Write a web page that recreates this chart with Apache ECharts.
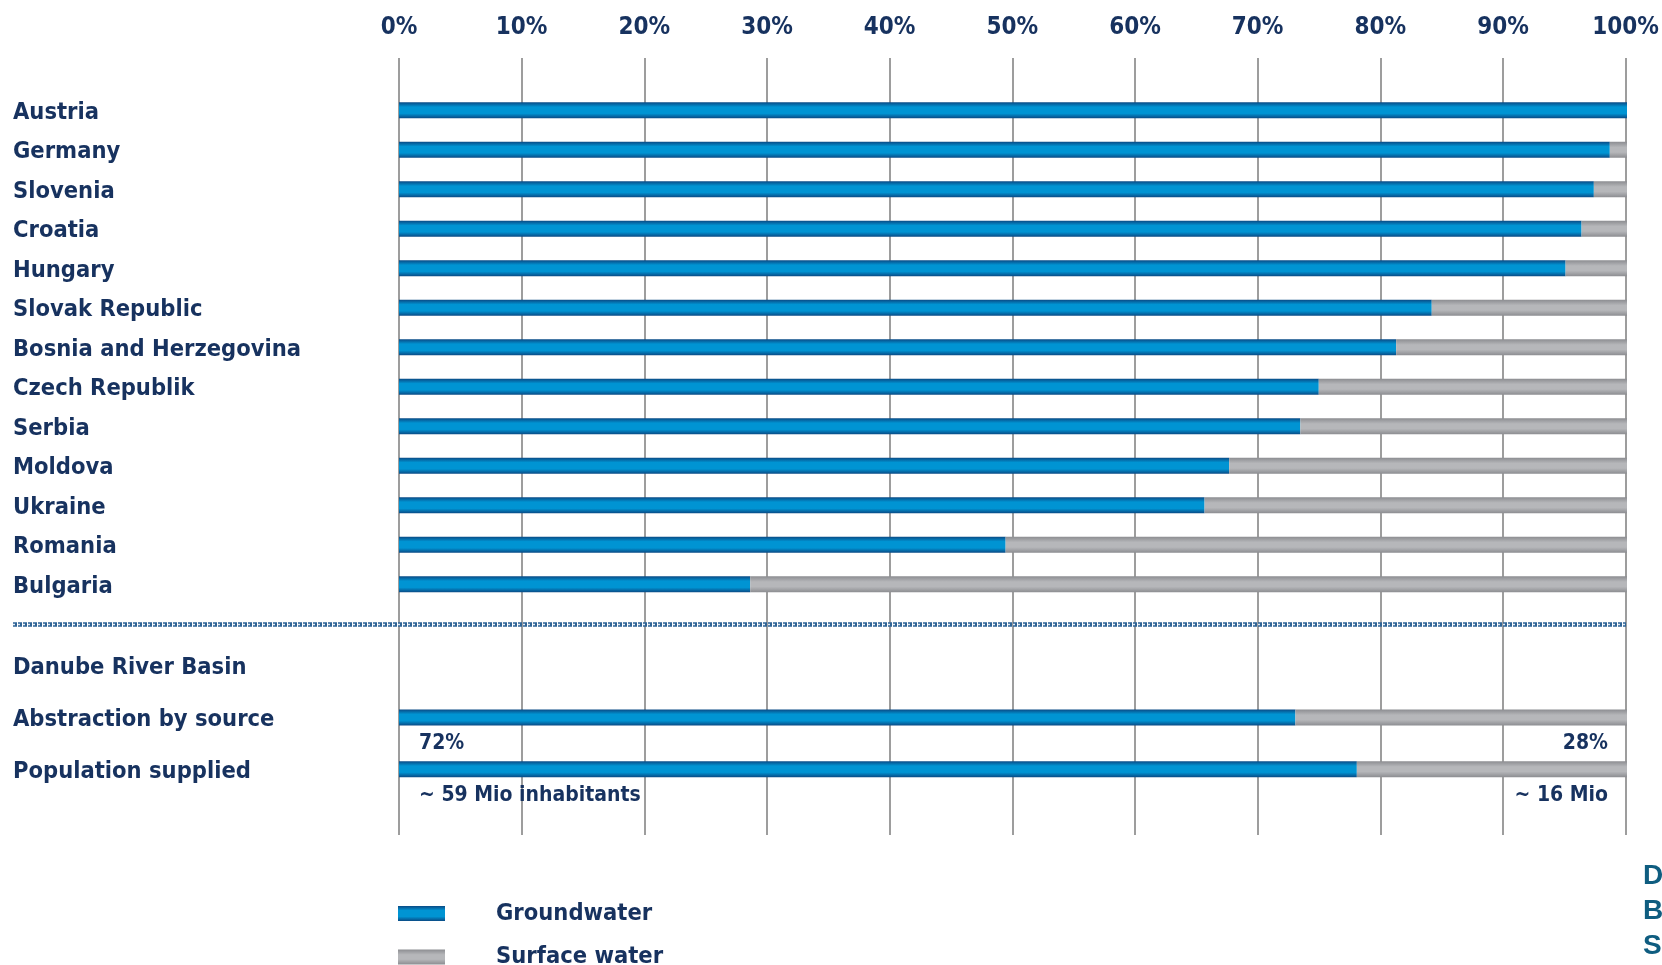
<!DOCTYPE html>
<html lang="en">
<head>
    <meta charset="UTF-8">
    <title>Groundwater and surface water</title>
    <script type="text/javascript" src="https://cdn.jsdelivr.net/npm/echarts@6/dist/echarts.min.js"></script>
    <style>
        body { margin: 0; background: #fff; }
    </style>
</head>
<body>
<div id="main" style="width: 1662px; height: 965px;"></div>
<script type="text/javascript">
    // countries, top to bottom
    var countries = ['Austria', 'Germany', 'Slovenia', 'Croatia', 'Hungary', 'Slovak Republic',
        'Bosnia and Herzegovina', 'Czech Republik', 'Serbia', 'Moldova', 'Ukraine', 'Romania', 'Bulgaria'];
    var groundwater = [100, 98.6, 97.3, 96.3, 95.0, 84.1, 81.2, 74.9, 73.4, 67.6, 65.6, 49.4, 28.6];
    var surfacewater = [0, 1.4, 2.7, 3.7, 5.0, 15.9, 18.8, 25.1, 26.6, 32.4, 34.4, 50.6, 71.4];

    // Danube basin block
    var basinRows = ['Danube River Basin', 'Abstraction by source', 'Population supplied'];
    var basinGround = ['-', 73, 78];
    var basinSurface = ['-', 27, 22];
    var basinGroundNotes = ['', '72%', '~ 59 Mio inhabitants'];
    var basinSurfaceNotes = ['', '28%', '~ 16 Mio'];

    var tickLabels = ['0%', '10%', '20%', '30%', '40%', '50%', '60%', '70%', '80%', '90%', '100%'];

    var FONT = "'DejaVu Sans Condensed', 'Liberation Sans Narrow', sans-serif";
    var NAVY = '#17325f';

    var blue = new echarts.graphic.LinearGradient(0, 0, 0, 1, [
        {offset: 0, color: '#0a4a85'},
        {offset: 0.3, color: '#0094d3'},
        {offset: 0.7, color: '#0094d3'},
        {offset: 1, color: '#0a4a85'}
    ]);
    var grey = new echarts.graphic.LinearGradient(0, 0, 0, 1, [
        {offset: 0, color: '#8c8d91'},
        {offset: 0.35, color: '#b6b7ba'},
        {offset: 0.65, color: '#b6b7ba'},
        {offset: 1, color: '#8c8d91'}
    ]);

    var noteStyle = {fontFamily: FONT, fontWeight: 'bold', fontSize: 21, color: NAVY};

    var basinGroundData = basinGround.map(function (v, i) {
        var item = {value: v};
        if (basinGroundNotes[i]) {
            item.label = Object.assign({show: true, formatter: basinGroundNotes[i],
                position: [20, 34], align: 'left', verticalAlign: 'middle'}, noteStyle);
        }
        return item;
    });
    var basinSurfaceData = basinSurface.map(function (v, i) {
        var item = {value: v};
        if (basinSurfaceNotes[i]) {
            item.label = Object.assign({show: true, formatter: basinSurfaceNotes[i],
                position: ['100%', 34], offset: [-19, 0], align: 'right', verticalAlign: 'middle'}, noteStyle);
        }
        return item;
    });

    // row labels sit a few px below the bar centre
    var catLabel = {
        align: 'left',
        margin: 386,
        formatter: function (v) { return '{a|' + v + '}'; },
        rich: {
            a: {
                fontFamily: FONT,
                fontWeight: 'bold',
                fontSize: 23.5,
                color: NAVY,
                lineHeight: 29,
                verticalAlign: 'bottom'
            }
        }
    };

    var myChart = echarts.init(document.getElementById('main'));
    var option = {
        backgroundColor: '#fff',
        animation: false,
        grid: [
            {left: 399, right: 35, top: 58, height: 777},
            {left: 399, right: 35, top: 90.5, height: 513.5},
            {left: 399, right: 35, top: 640, height: 155}
        ],
        xAxis: [
            {
                gridIndex: 0, type: 'value', position: 'top', min: 0, max: 100, interval: 10,
                axisLine: {show: false}, axisTick: {show: false},
                splitLine: {show: true, lineStyle: {color: '#7d7d7d', width: 1.5}},
                axisLabel: {
                    margin: 18,
                    fontFamily: FONT, fontWeight: 'bold', fontSize: 24, color: NAVY,
                    formatter: function (v) { return tickLabels[Math.round(v / 10)]; }
                }
            },
            {gridIndex: 1, type: 'value', min: 0, max: 100, show: false},
            {gridIndex: 2, type: 'value', min: 0, max: 100, show: false}
        ],
        yAxis: [
            {gridIndex: 0, type: 'value', show: false},
            {
                gridIndex: 1, type: 'category', inverse: true, data: countries,
                axisLine: {show: false}, axisTick: {show: false}, axisLabel: catLabel
            },
            {
                gridIndex: 2, type: 'category', inverse: true, data: basinRows,
                axisLine: {show: false}, axisTick: {show: false}, axisLabel: catLabel
            }
        ],
        legend: {
            orient: 'vertical',
            left: 398,
            top: 900.5,
            padding: 0,
            height: 120,
            icon: 'rect',
            itemWidth: 47,
            itemHeight: 15,
            itemGap: 17.5,
            data: ['Groundwater', 'Surface water'],
            textStyle: {fontFamily: FONT, fontWeight: 'bold', fontSize: 23.5, lineHeight: 26, color: NAVY, padding: [0, 0, 0, 46]}
        },
        series: [
            {
                name: 'Groundwater', type: 'bar', stack: 'c', xAxisIndex: 1, yAxisIndex: 1,
                barWidth: 16, itemStyle: {color: blue}, data: groundwater
            },
            {
                name: 'Surface water', type: 'bar', stack: 'c', xAxisIndex: 1, yAxisIndex: 1,
                barWidth: 16, itemStyle: {color: grey}, data: surfacewater
            },
            {
                name: 'Groundwater', type: 'bar', stack: 'd', xAxisIndex: 2, yAxisIndex: 2,
                barWidth: 16, itemStyle: {color: blue}, data: basinGroundData
            },
            {
                name: 'Surface water', type: 'bar', stack: 'd', xAxisIndex: 2, yAxisIndex: 2,
                barWidth: 16, itemStyle: {color: grey}, data: basinSurfaceData
            }
        ],
        graphic: [
            // separator chain
            {
                type: 'line', z: 10,
                shape: {x1: 13, y1: 624.5, x2: 1626, y2: 624.5},
                style: {stroke: '#2f6496', lineWidth: 4.5, lineDash: [4, 1]}
            },
            {
                type: 'line', z: 11,
                shape: {x1: 13, y1: 624.5, x2: 1626, y2: 624.5},
                style: {stroke: '#e3ecf5', lineWidth: 1.4, lineDash: [2, 3]}
            },
            // cut-off text at the right edge
            {type: 'text', left: 1643, top: 862, style: {text: 'D', font: "bold 28px 'Liberation Sans', sans-serif", fill: '#0f5d80'}},
            {type: 'text', left: 1643, top: 897, style: {text: 'B', font: "bold 28px 'Liberation Sans', sans-serif", fill: '#0f5d80'}},
            {type: 'text', left: 1643, top: 932, style: {text: 'Sc', font: "bold 28px 'Liberation Sans', sans-serif", fill: '#0f5d80'}}
        ]
    };
    myChart.setOption(option);
</script>
</body>
</html>
